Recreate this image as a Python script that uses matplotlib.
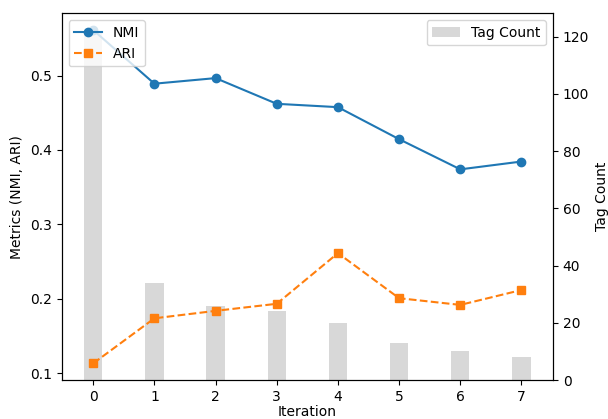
import matplotlib
matplotlib.use("Agg")
import matplotlib.pyplot as plt
import numpy as np

iterations = [0, 1, 2, 3, 4, 5, 6, 7]
nmi = [0.561, 0.489, 0.4965, 0.462, 0.4575, 0.4145, 0.374, 0.3845]
ari = [0.1135, 0.174, 0.184, 0.1935, 0.2615, 0.201, 0.192, 0.212]
tag_count = [122, 34, 26, 24, 20, 13, 10, 8]

fig, ax1 = plt.subplots(figsize=(6.08, 4.19), dpi=100)
fig.subplots_adjust(left=0.1015, right=0.9095, top=0.968, bottom=0.093)
ax2 = ax1.twinx()

ax2.bar(iterations, tag_count, width=0.3, color='gray', alpha=0.3, label='Tag Count')
ax2.set_ylabel('Tag Count')

ax1.plot(iterations, nmi, marker='o', linestyle='-', color='#1f77b4', label='NMI')
ax1.plot(iterations, ari, marker='s', linestyle='--', color='#ff7f0e', label='ARI')
ax1.set_xlabel('Iteration', labelpad=1)
ax1.set_ylabel('Metrics (NMI, ARI)')
ax1.set_xticks(iterations)

ax1.set_zorder(ax2.get_zorder() + 1)
ax1.patch.set_visible(False)

ax1.legend(loc='upper left')
ax2.legend(loc='upper right')

fig.savefig('out.png', dpi=100)
